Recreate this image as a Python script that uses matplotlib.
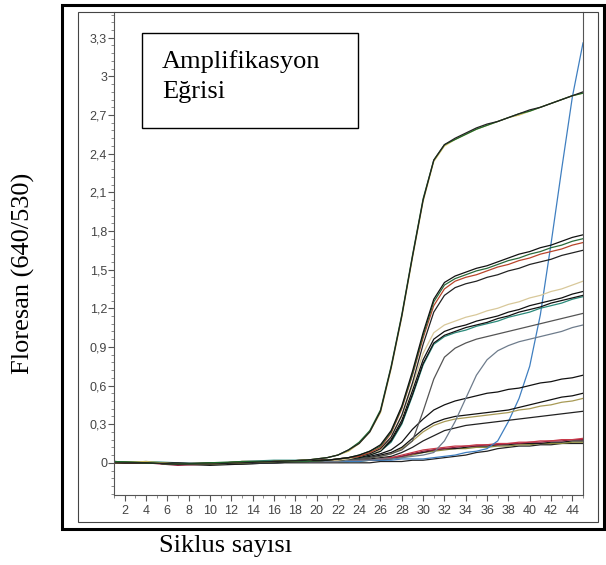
import matplotlib.pyplot as plt
from matplotlib.patches import Rectangle
from matplotlib.ticker import MultipleLocator

W, H = 606, 565

# cycle numbers where the fluorescence values are given
cycles = [1, 4, 7, 10, 13, 16, 19,
          21, 22, 23, 24, 25, 26, 27, 28, 29, 30, 31, 32, 33,
          34, 35, 36, 37, 38, 39, 40, 41, 42, 43, 44, 45]

# earliest, strongest samples
green_a = [0.00, 0.00, -0.01, -0.01, 0.00, 0.01, 0.02,
           0.04, 0.06, 0.10, 0.15, 0.24, 0.40, 0.74, 1.14, 1.60, 2.04, 2.35, 2.47, 2.52,
           2.56, 2.60, 2.63, 2.65, 2.68, 2.71, 2.74, 2.76, 2.79, 2.82, 2.85, 2.88]
green_b = [0.01, 0.00, -0.01, 0.00, 0.01, 0.01, 0.02,
           0.04, 0.06, 0.10, 0.16, 0.25, 0.41, 0.75, 1.15, 1.61, 2.05, 2.35, 2.47, 2.51,
           2.55, 2.59, 2.62, 2.65, 2.68, 2.71, 2.73, 2.76, 2.79, 2.82, 2.85, 2.87]
green_c = [0.00, 0.01, -0.01, -0.01, 0.00, 0.01, 0.02,
           0.04, 0.06, 0.09, 0.15, 0.24, 0.39, 0.73, 1.13, 1.59, 2.03, 2.34, 2.46, 2.51,
           2.55, 2.59, 2.62, 2.65, 2.68, 2.70, 2.73, 2.76, 2.79, 2.82, 2.85, 2.87]

# plateau around 1.4
mid_a = [0.00, 0.00, -0.01, 0.00, 0.00, 0.01, 0.02,
         0.02, 0.03, 0.04, 0.06, 0.09, 0.14, 0.25, 0.44, 0.71, 1.01, 1.27, 1.40, 1.45,
         1.48, 1.51, 1.53, 1.56, 1.59, 1.62, 1.64, 1.67, 1.69, 1.72, 1.75, 1.77]
mid_b = [0.01, 0.00, -0.01, -0.01, 0.00, 0.01, 0.01,
         0.02, 0.03, 0.04, 0.06, 0.09, 0.13, 0.24, 0.43, 0.69, 0.99, 1.25, 1.38, 1.43,
         1.46, 1.49, 1.51, 1.54, 1.57, 1.59, 1.62, 1.64, 1.67, 1.69, 1.72, 1.74]
mid_c = [0.00, 0.00, -0.01, -0.01, 0.01, 0.01, 0.02,
         0.02, 0.03, 0.04, 0.05, 0.08, 0.12, 0.23, 0.42, 0.68, 0.97, 1.22, 1.35, 1.41,
         1.44, 1.46, 1.49, 1.52, 1.54, 1.57, 1.59, 1.62, 1.64, 1.66, 1.69, 1.71]
mid_d = [0.00, 0.00, 0.00, -0.01, 0.00, 0.01, 0.01,
         0.02, 0.03, 0.04, 0.05, 0.07, 0.11, 0.20, 0.37, 0.62, 0.92, 1.17, 1.30, 1.36,
         1.39, 1.41, 1.44, 1.46, 1.49, 1.51, 1.54, 1.56, 1.58, 1.61, 1.63, 1.65]

# plateau around 1.0
beige = [0.00, 0.00, -0.01, 0.00, 0.00, 0.01, 0.01,
         0.02, 0.02, 0.03, 0.05, 0.07, 0.10, 0.20, 0.36, 0.60, 0.85, 1.01, 1.07, 1.10,
         1.13, 1.15, 1.18, 1.20, 1.23, 1.25, 1.28, 1.30, 1.33, 1.35, 1.38, 1.41]
low_a = [0.01, 0.00, -0.01, -0.01, 0.00, 0.01, 0.01,
         0.02, 0.02, 0.03, 0.05, 0.07, 0.10, 0.18, 0.33, 0.56, 0.80, 0.96, 1.02, 1.05,
         1.07, 1.10, 1.12, 1.14, 1.17, 1.19, 1.22, 1.24, 1.26, 1.28, 1.31, 1.33]
low_b = [0.00, 0.00, -0.01, -0.01, 0.00, 0.00, 0.01,
         0.02, 0.02, 0.03, 0.04, 0.06, 0.09, 0.17, 0.31, 0.53, 0.77, 0.93, 0.99, 1.02,
         1.05, 1.07, 1.09, 1.12, 1.14, 1.17, 1.19, 1.21, 1.24, 1.26, 1.28, 1.30]
teal = [0.00, 0.01, 0.00, -0.01, 0.01, 0.02, 0.02,
        0.02, 0.02, 0.03, 0.04, 0.06, 0.09, 0.16, 0.30, 0.52, 0.76, 0.92, 0.98, 1.01,
        1.03, 1.06, 1.08, 1.10, 1.13, 1.15, 1.17, 1.20, 1.22, 1.24, 1.27, 1.29]
grey_a = [0.00, 0.00, -0.01, -0.01, 0.00, 0.01, 0.01,
          0.02, 0.02, 0.03, 0.03, 0.04, 0.05, 0.07, 0.10, 0.17, 0.40, 0.65, 0.82, 0.89,
          0.93, 0.96, 0.98, 1.00, 1.02, 1.04, 1.06, 1.08, 1.10, 1.12, 1.14, 1.16]
grey_late = [0.00, 0.00, -0.01, -0.01, 0.00, 0.00, 0.01,
             0.01, 0.01, 0.02, 0.02, 0.02, 0.03, 0.03, 0.04, 0.05, 0.06, 0.08, 0.17, 0.32,
             0.50, 0.68, 0.80, 0.87, 0.91, 0.94, 0.96, 0.98, 1.00, 1.02, 1.05, 1.07]

# weak samples
weak_a = [0.00, 0.00, -0.01, -0.01, 0.00, 0.01, 0.01,
          0.02, 0.02, 0.03, 0.04, 0.05, 0.07, 0.10, 0.16, 0.26, 0.34, 0.41, 0.45, 0.48,
          0.50, 0.52, 0.54, 0.55, 0.57, 0.58, 0.60, 0.62, 0.63, 0.65, 0.66, 0.68]
weak_b = [0.00, 0.00, -0.01, 0.00, 0.00, 0.01, 0.02,
          0.02, 0.02, 0.03, 0.03, 0.04, 0.06, 0.08, 0.12, 0.19, 0.26, 0.31, 0.34, 0.36,
          0.37, 0.38, 0.39, 0.40, 0.41, 0.43, 0.45, 0.47, 0.49, 0.51, 0.52, 0.54]
weak_olive = [0.01, 0.00, -0.01, -0.01, 0.01, 0.01, 0.01,
              0.02, 0.02, 0.03, 0.03, 0.04, 0.05, 0.07, 0.11, 0.17, 0.24, 0.29, 0.32, 0.34,
              0.35, 0.36, 0.37, 0.38, 0.39, 0.41, 0.42, 0.44, 0.45, 0.47, 0.48, 0.50]
weak_c = [0.00, 0.00, -0.01, -0.01, 0.00, 0.00, 0.01,
          0.02, 0.02, 0.02, 0.03, 0.03, 0.04, 0.05, 0.08, 0.12, 0.17, 0.21, 0.25, 0.27,
          0.29, 0.30, 0.31, 0.32, 0.33, 0.34, 0.35, 0.36, 0.37, 0.38, 0.39, 0.40]

# very late riser
blue = [0.01, 0.00, -0.01, -0.01, 0.00, 0.01, 0.01,
        0.01, 0.01, 0.01, 0.01, 0.02, 0.02, 0.02, 0.03, 0.03, 0.03, 0.04, 0.05, 0.06,
        0.08, 0.09, 0.11, 0.17, 0.32, 0.50, 0.75, 1.15, 1.70, 2.28, 2.84, 3.26]

# near-baseline samples
base_red = [0.00, 0.00, -0.01, -0.01, 0.00, 0.01, 0.02,
            0.02, 0.02, 0.02, 0.02, 0.02, 0.03, 0.04, 0.06, 0.08, 0.10, 0.11, 0.12, 0.13,
            0.13, 0.14, 0.14, 0.15, 0.15, 0.16, 0.16, 0.17, 0.17, 0.18, 0.18, 0.19]
base_maroon = [0.00, 0.00, -0.02, -0.01, 0.00, 0.01, 0.01,
               0.01, 0.01, 0.02, 0.02, 0.02, 0.03, 0.04, 0.05, 0.07, 0.09, 0.10, 0.11, 0.12,
               0.13, 0.13, 0.14, 0.14, 0.15, 0.15, 0.16, 0.16, 0.17, 0.17, 0.18, 0.18]
base_black = [0.00, 0.00, -0.01, -0.02, -0.01, 0.00, 0.01,
              0.01, 0.01, 0.01, 0.02, 0.02, 0.02, 0.03, 0.05, 0.07, 0.08, 0.10, 0.11, 0.11,
              0.12, 0.13, 0.13, 0.14, 0.14, 0.15, 0.15, 0.15, 0.16, 0.16, 0.17, 0.17]
base_olive = [0.01, 0.00, -0.01, -0.01, 0.00, 0.01, 0.01,
              0.01, 0.01, 0.01, 0.01, 0.02, 0.02, 0.03, 0.04, 0.06, 0.08, 0.09, 0.10, 0.11,
              0.11, 0.12, 0.12, 0.13, 0.13, 0.14, 0.14, 0.15, 0.15, 0.15, 0.16, 0.16]
base_low = [0.00, 0.00, -0.01, -0.01, -0.01, 0.00, 0.00,
            0.00, 0.00, 0.00, 0.00, 0.00, 0.01, 0.01, 0.01, 0.02, 0.02, 0.03, 0.04, 0.05,
            0.06, 0.08, 0.09, 0.11, 0.12, 0.13, 0.13, 0.14, 0.14, 0.15, 0.15, 0.15]

y_ticks = [0, 0.3, 0.6, 0.9, 1.2, 1.5, 1.8, 2.1, 2.4, 2.7, 3.0, 3.3]
y_tick_labels = ['0', '0,3', '0,6', '0,9', '1,2', '1,5', '1,8', '2,1', '2,4', '2,7', '3', '3,3']
x_ticks = list(range(2, 46, 2))

curves = [
    (base_low, '#222222'), (base_olive, '#8c8a3c'), (base_black, '#1a1a1a'),
    (base_maroon, '#8e2040'), (base_red, '#c83a4a'),
    (blue, '#3f7fc0'),
    (weak_c, '#222222'), (weak_olive, '#a89a55'), (weak_b, '#111111'), (weak_a, '#111111'),
    (grey_late, '#6e7c8c'), (grey_a, '#555555'),
    (teal, '#2a8a7a'), (low_b, '#111111'), (low_a, '#111111'), (beige, '#d8c89a'),
    (mid_d, '#222222'), (mid_c, '#b8442a'), (mid_b, '#2a6a3a'), (mid_a, '#111111'),
    (green_c, '#c8b85a'), (green_b, '#1d6b2a'), (green_a, '#222222'),
]

fig = plt.figure(figsize=(W / 100, H / 100), dpi=100)


def px_box(x0, y0, x1, y1):
    return (x0 / W, 1 - y1 / H), (x1 - x0) / W, (y1 - y0) / H


ax = fig.add_axes([114 / W, 1 - 495 / H, (583 - 114) / W, (495 - 12) / H])

for vals, col in curves:
    ax.plot(cycles, vals, color=col, lw=0.9, solid_joinstyle='round')

ax.set_xlim(1, 45)
ax.set_ylim(-0.25, 3.5)
ax.set_yticks(y_ticks)
ax.set_yticklabels(y_tick_labels)
ax.set_xticks(x_ticks)
ax.yaxis.set_minor_locator(MultipleLocator(0.06))
ax.xaxis.set_minor_locator(MultipleLocator(1))

for side in ['left', 'bottom', 'right']:
    ax.spines[side].set_color('#555555')
    ax.spines[side].set_linewidth(0.8)
ax.spines['top'].set_visible(False)

ax.tick_params(which='major', direction='out', length=4, width=0.8, color='#555555',
               labelsize=9, labelcolor='#444444')
ax.tick_params(which='minor', direction='out', length=2, width=0.6, color='#777777')
ax.tick_params(axis='y', pad=1)
ax.tick_params(axis='x', pad=3)
for lab in ax.get_xticklabels() + ax.get_yticklabels():
    lab.set_family('Liberation Sans')

# outer frame, inner frame and the title box
for (x0, y0, x1, y1), lw, col in [((62, 5, 604, 529), 2.2, 'black'),
                                  ((78, 12, 598, 522), 0.8, '#444444'),
                                  ((142, 33, 358, 128), 1.0, 'black')]:
    xy, w, h = px_box(x0, y0, x1, y1)
    fig.add_artist(Rectangle(xy, w, h, transform=fig.transFigure, fill=False,
                             lw=lw, edgecolor=col, zorder=5))

serif = 'Liberation Serif'
fig.text(162 / W, 1 - 68 / H, 'Amplifikasyon', family=serif, size=19, va='baseline')
fig.text(162 / W, 1 - 98 / H, 'Eğrisi', family=serif, size=19, va='baseline')
fig.text(23 / W, 1 - 273 / H, 'Floresan (640/530)', family=serif, size=19,
         rotation=90, ha='center', va='center')
fig.text(226 / W, 1 - 546 / H, 'Siklus sayısı', family=serif, size=19,
         ha='center', va='center')

fig.savefig('out.png', dpi=100)
